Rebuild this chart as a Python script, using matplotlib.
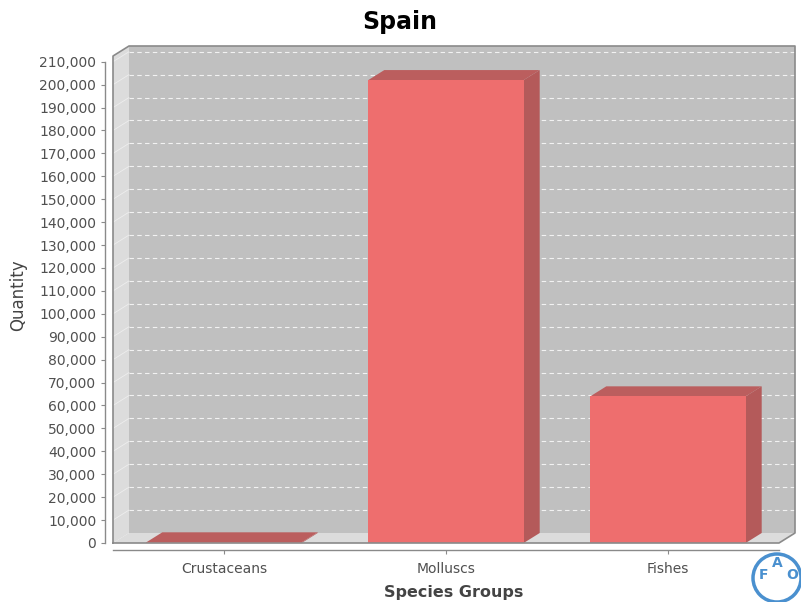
import matplotlib
matplotlib.use("Agg")
import matplotlib.pyplot as plt
from matplotlib.patches import Polygon, Rectangle, Circle

# data
categories = ["Crustaceans", "Molluscs", "Fishes"]
quantities = [300, 202000, 64000]
ytick_values = list(range(0, 210001, 10000))
ytick_labels = [f"{v:,}" for v in ytick_values]

FIG_W, FIG_H = 801, 602
AX_L, AX_R, AX_T, AX_B = 113, 779, 56, 543
YMAX = 212500
DEPTH_X, DEPTH_Y = 16, 10  # px offset of the 3d back wall

BACK_WALL = "#c0c0c0"
SIDE_WALL = "#dcdcdc"
OUTLINE = "#8a8a8a"
BAR_FRONT = "#ee6e6e"
BAR_SIDE = "#b45a5a"
BAR_TOP = "#bb5e5e"
TEXT = "#444444"

fig = plt.figure(figsize=(FIG_W / 100, FIG_H / 100), dpi=100)
ax = fig.add_axes([AX_L / FIG_W, (FIG_H - AX_B) / FIG_H,
                   (AX_R - AX_L) / FIG_W, (AX_B - AX_T) / FIG_H])
n = len(categories)
ax.set_xlim(0, n)
ax.set_ylim(0, YMAX)
ax.patch.set_visible(False)

# pixel depth -> data units
dx = DEPTH_X * n / (AX_R - AX_L)
dy = DEPTH_Y * YMAX / (AX_B - AX_T)


def poly(pts, color, z):
    ax.add_patch(Polygon(pts, closed=True, facecolor=color, edgecolor="none",
                         zorder=z, clip_on=False))


# walls
poly([(dx, dy), (n + dx, dy), (n + dx, YMAX + dy), (dx, YMAX + dy)], BACK_WALL, 0)
poly([(0, 0), (dx, dy), (dx, YMAX + dy), (0, YMAX)], SIDE_WALL, 0)
poly([(0, 0), (n, 0), (n + dx, dy), (dx, dy)], SIDE_WALL, 0)

# gridlines on back wall and side wall
for v in ytick_values[1:]:
    ax.plot([dx, n + dx], [v + dy, v + dy], color="white", lw=0.8,
            ls=(0, (4, 3)), alpha=0.8, zorder=1, clip_on=False)
    ax.plot([0, dx], [v, v + dy], color="white", lw=0.6, alpha=0.5,
            zorder=1, clip_on=False)

# outline of the 3d box
ox = [0, 0, dx, n + dx, n + dx, n, 0]
oy = [0, YMAX, YMAX + dy, YMAX + dy, dy, 0, 0]
ax.plot(ox, oy, color=OUTLINE, lw=1.2, zorder=5, clip_on=False)

# 3d bars
width = 0.7
for i, q in enumerate(quantities):
    x0, x1 = i + 0.5 - width / 2, i + 0.5 + width / 2
    poly([(x1, 0), (x1 + dx, dy), (x1 + dx, q + dy), (x1, q)], BAR_SIDE, 3)
    poly([(x0, q), (x1, q), (x1 + dx, q + dy), (x0 + dx, q + dy)], BAR_TOP, 3)
    ax.add_patch(Rectangle((x0, 0), x1 - x0, q, facecolor=BAR_FRONT,
                           edgecolor="none", zorder=4))

# axes styling
for side in ("top", "right"):
    ax.spines[side].set_visible(False)
ax.spines["left"].set_position(("outward", 6))
ax.spines["bottom"].set_position(("outward", 5))
for side in ("left", "bottom"):
    ax.spines[side].set_color(OUTLINE)
    ax.spines[side].set_linewidth(1.0)
ax.spines["left"].set_bounds(0, 210000)

ax.set_yticks(ytick_values)
ax.set_yticklabels(ytick_labels)
ax.set_xticks([i + 0.5 for i in range(n)])
ax.set_xticklabels(categories)
ax.tick_params(axis="both", direction="out", length=3, width=0.8,
               color=OUTLINE, labelsize=10, labelcolor="#505050")
ax.tick_params(axis="y", pad=3)
ax.tick_params(axis="x", pad=6)

ax.set_ylabel("Quantity", fontsize=12, color=TEXT)
ax.yaxis.set_label_coords(27 / FIG_W, 1 - 295 / FIG_H, transform=fig.transFigure)

fig.text((AX_L + AX_R + DEPTH_X) / 2 / FIG_W, 1 - 592 / FIG_H, "Species Groups",
         ha="center", va="center", fontsize=11.5, fontweight="bold", color=TEXT)
fig.text(400 / FIG_W, 1 - 22 / FIG_H, "Spain", ha="center", va="center",
         fontsize=17, fontweight="bold", color="black")

# FAO logo (rough)
fig.patches.append(Circle((777, FIG_H - 578), 24, transform=None, fill=False,
                          edgecolor="#4a90cf", lw=2.5, figure=fig))
for ch, px, py in [("F", 763, 575), ("A", 777, 563), ("O", 792, 575)]:
    fig.text(px / FIG_W, 1 - py / FIG_H, ch, ha="center", va="center",
             fontsize=10, fontweight="bold", color="#4a90cf")

fig.savefig("out.png", dpi=100)
